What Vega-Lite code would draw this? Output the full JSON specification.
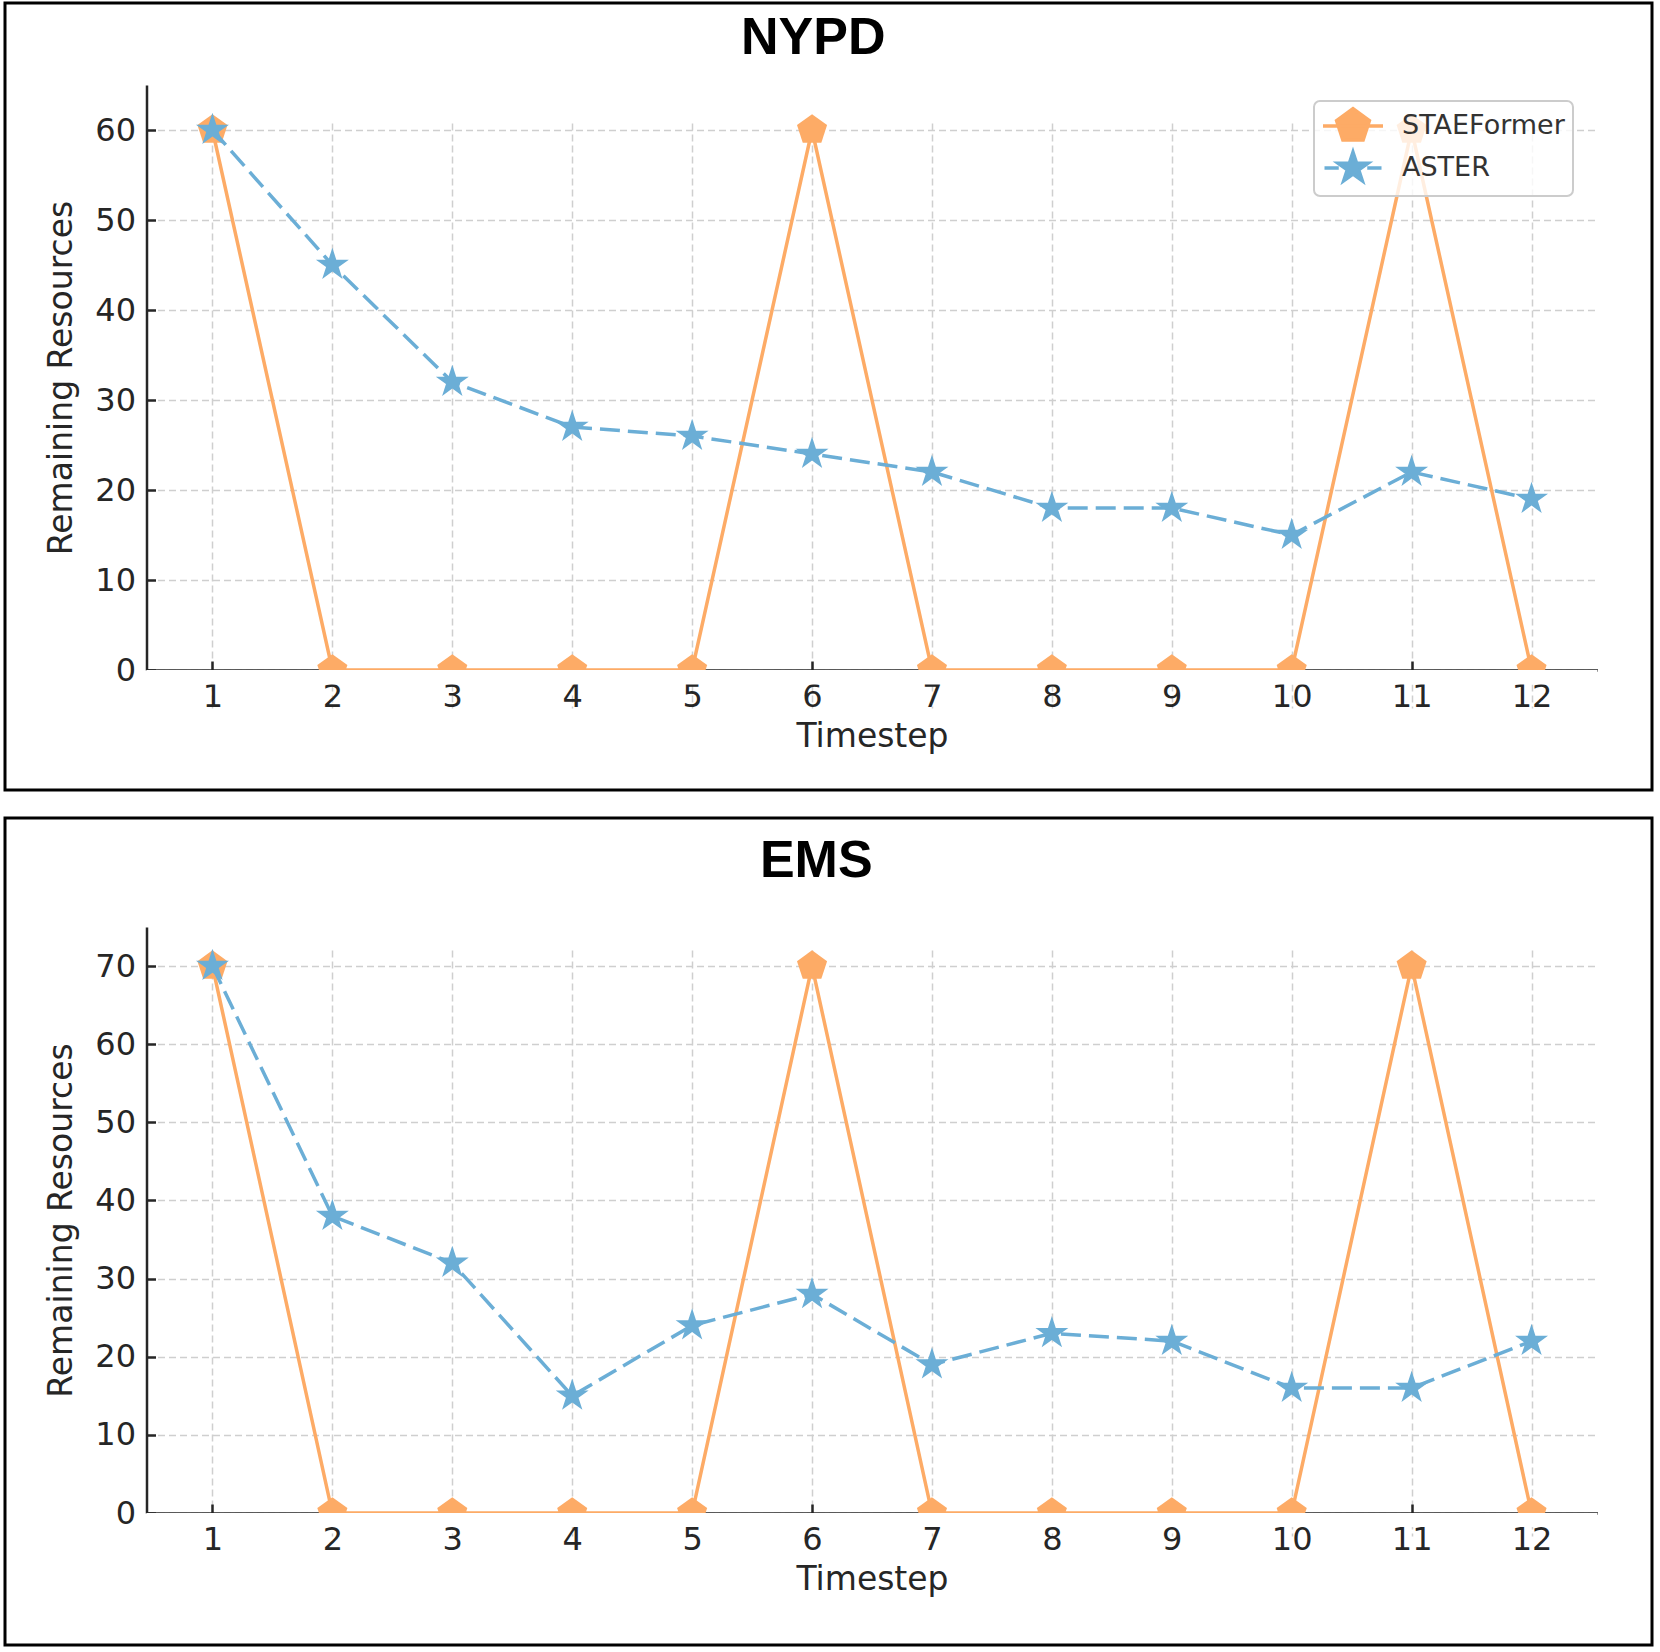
{
  "$schema": "https://vega.github.io/schema/vega-lite/v6.json",
  "padding": {"left": 3, "top": 1, "right": 0, "bottom": 0},
  "background": "white",
  "spacing": 24,
  "datasets": {
    "main": [
      {"dataset": "NYPD", "model": "STAEFormer", "timestep": 1, "resources": 60},
      {"dataset": "NYPD", "model": "STAEFormer", "timestep": 2, "resources": 0},
      {"dataset": "NYPD", "model": "STAEFormer", "timestep": 3, "resources": 0},
      {"dataset": "NYPD", "model": "STAEFormer", "timestep": 4, "resources": 0},
      {"dataset": "NYPD", "model": "STAEFormer", "timestep": 5, "resources": 0},
      {"dataset": "NYPD", "model": "STAEFormer", "timestep": 6, "resources": 60},
      {"dataset": "NYPD", "model": "STAEFormer", "timestep": 7, "resources": 0},
      {"dataset": "NYPD", "model": "STAEFormer", "timestep": 8, "resources": 0},
      {"dataset": "NYPD", "model": "STAEFormer", "timestep": 9, "resources": 0},
      {"dataset": "NYPD", "model": "STAEFormer", "timestep": 10, "resources": 0},
      {"dataset": "NYPD", "model": "STAEFormer", "timestep": 11, "resources": 60},
      {"dataset": "NYPD", "model": "STAEFormer", "timestep": 12, "resources": 0},
      {"dataset": "NYPD", "model": "ASTER", "timestep": 1, "resources": 60},
      {"dataset": "NYPD", "model": "ASTER", "timestep": 2, "resources": 45},
      {"dataset": "NYPD", "model": "ASTER", "timestep": 3, "resources": 32},
      {"dataset": "NYPD", "model": "ASTER", "timestep": 4, "resources": 27},
      {"dataset": "NYPD", "model": "ASTER", "timestep": 5, "resources": 26},
      {"dataset": "NYPD", "model": "ASTER", "timestep": 6, "resources": 24},
      {"dataset": "NYPD", "model": "ASTER", "timestep": 7, "resources": 22},
      {"dataset": "NYPD", "model": "ASTER", "timestep": 8, "resources": 18},
      {"dataset": "NYPD", "model": "ASTER", "timestep": 9, "resources": 18},
      {"dataset": "NYPD", "model": "ASTER", "timestep": 10, "resources": 15},
      {"dataset": "NYPD", "model": "ASTER", "timestep": 11, "resources": 22},
      {"dataset": "NYPD", "model": "ASTER", "timestep": 12, "resources": 19},
      {"dataset": "EMS", "model": "STAEFormer", "timestep": 1, "resources": 70},
      {"dataset": "EMS", "model": "STAEFormer", "timestep": 2, "resources": 0},
      {"dataset": "EMS", "model": "STAEFormer", "timestep": 3, "resources": 0},
      {"dataset": "EMS", "model": "STAEFormer", "timestep": 4, "resources": 0},
      {"dataset": "EMS", "model": "STAEFormer", "timestep": 5, "resources": 0},
      {"dataset": "EMS", "model": "STAEFormer", "timestep": 6, "resources": 70},
      {"dataset": "EMS", "model": "STAEFormer", "timestep": 7, "resources": 0},
      {"dataset": "EMS", "model": "STAEFormer", "timestep": 8, "resources": 0},
      {"dataset": "EMS", "model": "STAEFormer", "timestep": 9, "resources": 0},
      {"dataset": "EMS", "model": "STAEFormer", "timestep": 10, "resources": 0},
      {"dataset": "EMS", "model": "STAEFormer", "timestep": 11, "resources": 70},
      {"dataset": "EMS", "model": "STAEFormer", "timestep": 12, "resources": 0},
      {"dataset": "EMS", "model": "ASTER", "timestep": 1, "resources": 70},
      {"dataset": "EMS", "model": "ASTER", "timestep": 2, "resources": 38},
      {"dataset": "EMS", "model": "ASTER", "timestep": 3, "resources": 32},
      {"dataset": "EMS", "model": "ASTER", "timestep": 4, "resources": 15},
      {"dataset": "EMS", "model": "ASTER", "timestep": 5, "resources": 24},
      {"dataset": "EMS", "model": "ASTER", "timestep": 6, "resources": 28},
      {"dataset": "EMS", "model": "ASTER", "timestep": 7, "resources": 19},
      {"dataset": "EMS", "model": "ASTER", "timestep": 8, "resources": 23},
      {"dataset": "EMS", "model": "ASTER", "timestep": 9, "resources": 22},
      {"dataset": "EMS", "model": "ASTER", "timestep": 10, "resources": 16},
      {"dataset": "EMS", "model": "ASTER", "timestep": 11, "resources": 16},
      {"dataset": "EMS", "model": "ASTER", "timestep": 12, "resources": 22}
    ]
  },
  "vconcat": [
    {
      "width": 1647,
      "height": 787,
      "data": {"name": "main"},
      "transform": [{"filter": "datum.dataset === 'NYPD'"}],
      "encoding": {
        "x": {"field": "timestep", "type": "quantitative", "scale": {"domain": [0.45, 12.55], "range": [141.5, 1592.5], "nice": false, "zero": false}, "axis": {"values": [1, 2, 3, 4, 5, 6, 7, 8, 9, 10, 11, 12], "format": "d", "title": "Timestep", "offset": -120}},
        "y": {"field": "resources", "type": "quantitative", "scale": {"domain": [0, 65], "range": [667, 82], "nice": false, "zero": false}, "axis": {"values": [0, 10, 20, 30, 40, 50, 60], "format": "d", "title": "Remaining Resources", "offset": -141.5}},
        "color": {"field": "model", "type": "nominal", "scale": {"domain": ["STAEFormer", "ASTER"], "range": ["#fdab66", "#6baed6"]},
          "legend": {"title": null, "orient": "none", "legendX": 1309, "legendY": 98, "labelFontSize": 27, "labelLimit": 500, "labelColor": "#333333", "labelFont": "DejaVu Sans", "symbolSize": 900, "symbolOffset": 14, "labelOffset": 32, "rowPadding": -2, "padding": 8, "fillColor": "rgba(255,255,255,0.8)", "strokeColor": "#cccccc", "cornerRadius": 6,
            "encode": {
              "legend": {"update": {"strokeWidth": {"value": 2}}},
              "symbols": {"update": {
              "shape": {"signal": "datum.value === 'STAEFormer' ? 'M-2,0L2,0M0,-1.15L1.094,-0.355L0.676,0.93L-0.676,0.93L-1.094,-0.355Z' : 'M-1.9,0L-0.95,0M0.95,0L1.9,0M0,-1.05L0.236,-0.324L0.999,-0.324L0.381,0.124L0.617,0.849L0,0.401L-0.617,0.849L-0.381,0.124L-0.999,-0.324L-0.236,-0.324Z'"},
              "fill": {"signal": "datum.value === 'STAEFormer' ? '#fdab66' : '#6baed6'"},
              "stroke": {"signal": "datum.value === 'STAEFormer' ? '#fdab66' : '#6baed6'"},
              "strokeWidth": {"value": 3.5},
              "opacity": {"value": 1},
              "fillOpacity": {"value": 1},
              "strokeOpacity": {"value": 1}
            }}}
          }
        }
      },
      "layer": [
        {"transform": [{"filter": "datum.model === 'STAEFormer'"}], "mark": {"type": "line", "strokeWidth": 3.5}, "encoding": {}},
        {"transform": [{"filter": "datum.model === 'STAEFormer'"}], "mark": {"type": "point", "filled": true, "opacity": 1, "size": 1000, "shape": "M0,-1L0.951,-0.309L0.588,0.809L-0.588,0.809L-0.951,-0.309Z"}, "encoding": {}},
        {"transform": [{"filter": "datum.model === 'ASTER'"}], "mark": {"type": "line", "strokeWidth": 3.5, "strokeDash": [20, 8]}, "encoding": {}},
        {"transform": [{"filter": "datum.model === 'ASTER'"}], "mark": {"type": "point", "filled": true, "opacity": 1, "size": 1200, "shape": "M0,-1L0.225,-0.309L0.951,-0.309L0.363,0.118L0.588,0.809L0,0.382L-0.588,0.809L-0.363,0.118L-0.951,-0.309L-0.225,-0.309Z"}, "encoding": {}},
        {"transform": [{"filter": "datum.model === 'STAEFormer' && datum.timestep === 1"}], "mark": {"type": "rect", "fill": "white", "strokeWidth": 0}, "encoding": {"x": {"datum": 0.45, "type": "quantitative"}, "x2": {"datum": 12.55}, "y": {"datum": 0, "type": "quantitative"}, "y2": {"datum": -1.6}, "color": {"value": "white"}}},
        {"transform": [{"filter": "datum.model === 'STAEFormer' && datum.timestep === 1"}], "mark": {"type": "text", "font": "Liberation Sans", "fontSize": 52, "fontWeight": "bold", "align": "center", "baseline": "alphabetic"}, "encoding": {"x": {"datum": 6.01, "type": "quantitative"}, "y": {"datum": 68.5, "type": "quantitative"}, "text": {"field": "dataset"}, "color": {"value": "black"}}}
      ]
    },
    {
      "width": 1647,
      "height": 827,
      "data": {"name": "main"},
      "transform": [{"filter": "datum.dataset === 'EMS'"}],
      "encoding": {
        "x": {"field": "timestep", "type": "quantitative", "scale": {"domain": [0.45, 12.55], "range": [141.5, 1592.5], "nice": false, "zero": false}, "axis": {"values": [1, 2, 3, 4, 5, 6, 7, 8, 9, 10, 11, 12], "format": "d", "title": "Timestep", "offset": -132}},
        "y": {"field": "resources", "type": "quantitative", "scale": {"domain": [0, 75], "range": [695, 109], "nice": false, "zero": false}, "axis": {"values": [0, 10, 20, 30, 40, 50, 60, 70], "format": "d", "title": "Remaining Resources", "offset": -141.5}},
        "color": {"field": "model", "type": "nominal", "scale": {"domain": ["STAEFormer", "ASTER"], "range": ["#fdab66", "#6baed6"]},
          "legend": {"title": null, "orient": "none", "legendX": 1309, "legendY": 125, "labelFontSize": 27, "labelLimit": 500, "labelColor": "#333333", "labelFont": "DejaVu Sans", "symbolSize": 900, "symbolOffset": 14, "labelOffset": 32, "rowPadding": -2, "padding": 8, "fillColor": "rgba(255,255,255,0.8)", "strokeColor": "#cccccc", "cornerRadius": 6,
            "encode": {
              "legend": {"update": {"strokeWidth": {"value": 2}}},
              "symbols": {"update": {
              "shape": {"signal": "datum.value === 'STAEFormer' ? 'M-2,0L2,0M0,-1.15L1.094,-0.355L0.676,0.93L-0.676,0.93L-1.094,-0.355Z' : 'M-1.9,0L-0.95,0M0.95,0L1.9,0M0,-1.05L0.236,-0.324L0.999,-0.324L0.381,0.124L0.617,0.849L0,0.401L-0.617,0.849L-0.381,0.124L-0.999,-0.324L-0.236,-0.324Z'"},
              "fill": {"signal": "datum.value === 'STAEFormer' ? '#fdab66' : '#6baed6'"},
              "stroke": {"signal": "datum.value === 'STAEFormer' ? '#fdab66' : '#6baed6'"},
              "strokeWidth": {"value": 3.5},
              "opacity": {"value": 1},
              "fillOpacity": {"value": 1},
              "strokeOpacity": {"value": 1}
            }}}
          }
        }
      },
      "layer": [
        {"transform": [{"filter": "datum.model === 'STAEFormer'"}], "mark": {"type": "line", "strokeWidth": 3.5}, "encoding": {}},
        {"transform": [{"filter": "datum.model === 'STAEFormer'"}], "mark": {"type": "point", "filled": true, "opacity": 1, "size": 1000, "shape": "M0,-1L0.951,-0.309L0.588,0.809L-0.588,0.809L-0.951,-0.309Z"}, "encoding": {}},
        {"transform": [{"filter": "datum.model === 'ASTER'"}], "mark": {"type": "line", "strokeWidth": 3.5, "strokeDash": [20, 8]}, "encoding": {}},
        {"transform": [{"filter": "datum.model === 'ASTER'"}], "mark": {"type": "point", "filled": true, "opacity": 1, "size": 1200, "shape": "M0,-1L0.225,-0.309L0.951,-0.309L0.363,0.118L0.588,0.809L0,0.382L-0.588,0.809L-0.363,0.118L-0.951,-0.309L-0.225,-0.309Z"}, "encoding": {}},
        {"transform": [{"filter": "datum.model === 'STAEFormer' && datum.timestep === 1"}], "mark": {"type": "rect", "fill": "white", "strokeWidth": 0}, "encoding": {"x": {"datum": 0.45, "type": "quantitative"}, "x2": {"datum": 12.55}, "y": {"datum": 0, "type": "quantitative"}, "y2": {"datum": -1.8}, "color": {"value": "white"}}},
        {"transform": [{"filter": "datum.model === 'STAEFormer' && datum.timestep === 1"}], "mark": {"type": "text", "font": "Liberation Sans", "fontSize": 52, "fontWeight": "bold", "align": "center", "baseline": "alphabetic"}, "encoding": {"x": {"datum": 6.035, "type": "quantitative"}, "y": {"datum": 81.4, "type": "quantitative"}, "text": {"field": "dataset"}, "color": {"value": "black"}}}
      ]
    }
  ],
  "config": {
    "font": "DejaVu Sans",
    "view": {"stroke": "black", "strokeWidth": 3},
    "axis": {"zindex": 1, "domainColor": "#262626", "domainWidth": 2.5, "tickColor": "#262626", "tickWidth": 2.5, "tickSize": -9, "labelFont": "DejaVu Sans", "labelFontSize": 32, "labelColor": "#262626", "labelPadding": 20, "titleFont": "DejaVu Sans", "titleFontSize": 33, "titleFontWeight": "normal", "titleColor": "#262626", "grid": true, "gridColor": "#cfcfcf", "gridDash": [7, 4], "gridWidth": 1.5},
    "axisX": {"titlePadding": 8},
    "axisY": {"titlePadding": 16}
  }
}
